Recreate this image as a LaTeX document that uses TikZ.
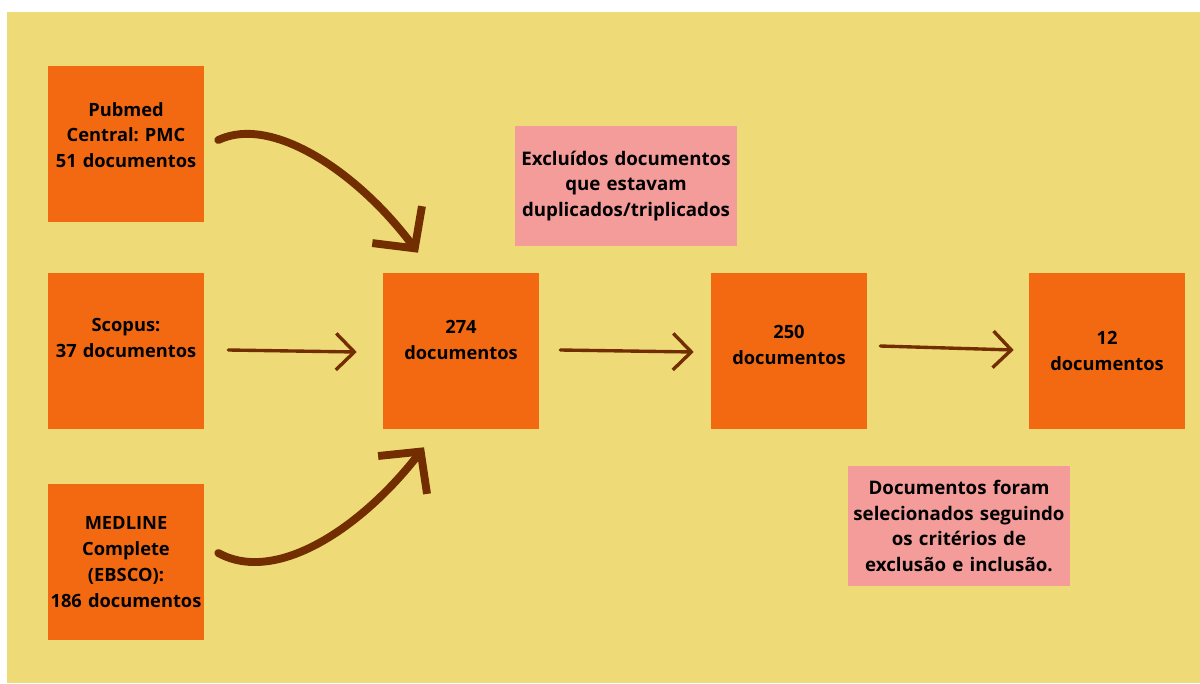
\documentclass[tikz,border=0pt]{standalone}
\usepackage{fontspec}
\setmainfont{Open Sans}
\frenchspacing
\usetikzlibrary{positioning,arrows.meta,calc}

\definecolor{bgyellow}{HTML}{EEDB78}
\definecolor{boxorange}{HTML}{F26912}
\definecolor{notepink}{HTML}{F49C9A}
\definecolor{arrowbrown}{HTML}{722E00}

\begin{document}
\begin{tikzpicture}[x=0.025cm,y=-0.025cm,
  box/.style={fill=boxorange, minimum width=3.9cm, minimum height=3.9cm,
    text width=3.9cm, align=center, inner sep=0pt,
    font=\fontsize{13}{18.4}\selectfont\bfseries},
  lift/.style={text depth=#1},
  note/.style={fill=notepink, minimum width=5.55cm, minimum height=3.02cm,
    text width=5.55cm, align=center, inner sep=0pt,
    font=\fontsize{13.3}{18.4}\selectfont\bfseries},
  bigarrow/.style={draw=arrowbrown, line width=5.6pt, line cap=round,
    -{Straight Barb[length=21pt,width=44pt,line width=5.6pt]}},
  thinarrow/.style={draw=arrowbrown, line width=2.4pt, line cap=round,
    -{Straight Barb[length=13pt,width=26pt,line width=2.4pt]}}]
  % page and background
  \useasboundingbox (0,0) rectangle (1200,683);
  \fill[white] (0,0) rectangle (1200,683);
  \fill[bgyellow] (7,12) rectangle (1200,683);
  % sources
  \node[box, lift=49.6pt] (pubmed) at (126,144) {Pubmed\\Central: PMC\\51 documentos};
  \node[box, lift=36.8pt] (scopus) at (126,351) {Scopus:\\37 documentos};
  \node[box] (medline) at (126,562) {MEDLINE\\Complete\\(EBSCO):\\186 documentos};
  % steps
  \node[box, lift=34pt] (n274) at (461,351) {274\\documentos};
  \node[box, lift=27pt] (n250) at (789,351) {250\\documentos};
  \node[box] (n12) at (1107,351) {12\\documentos};
  % notes
  \node[note] (dupl) at (626,186) {Excluídos documentos\\que estavam\\duplicados/triplicados};
  \node[note] (crit) at (959,526) {Documentos foram\\selecionados seguindo\\os critérios de\\exclusão e inclusão.};
  % arrows
  \draw[bigarrow] ($(pubmed.east)+(14,-4)$) .. controls +(55,-26) and +(-58,-78) .. ($(n274.north)+(-43,-20)$);
  \draw[bigarrow] ($(medline.east)+(14,-9)$) .. controls +(58,32) and +(-62,80) .. ($(n274.south)+(-37,18)$);
  \draw[thinarrow] ($(scopus.east)+(24,-1)$) -- ($(n274.west)+(-26,1)$);
  \draw[thinarrow] ($(n274.east)+(21,-1)$) -- ($(n250.west)+(-17,1)$);
  \draw[thinarrow] ($(n250.east)+(13,-5)$) -- ($(n12.west)+(-15,-1)$);
\end{tikzpicture}
\end{document}
